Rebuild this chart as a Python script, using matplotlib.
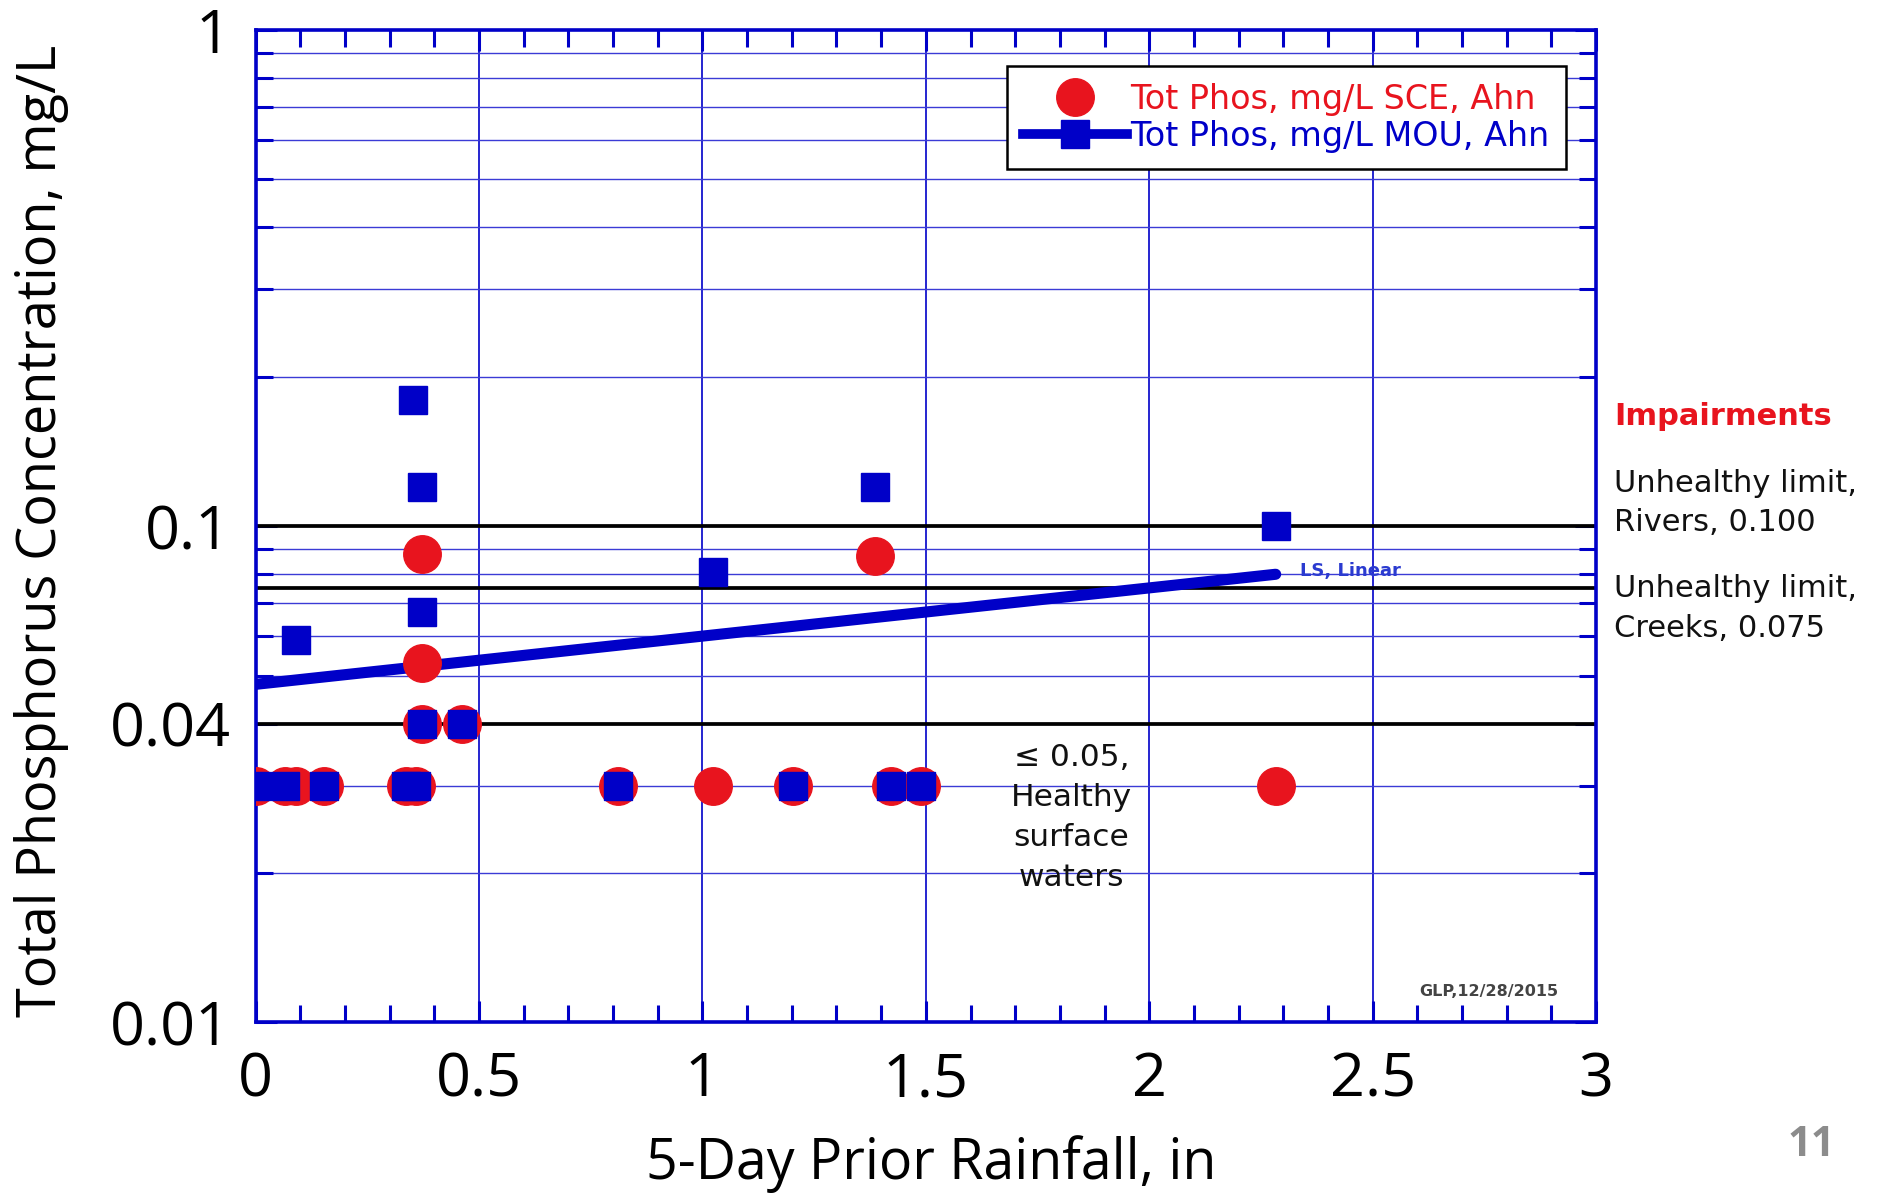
import numpy as np
import matplotlib.pyplot as plt
from matplotlib.lines import Line2D
from matplotlib.ticker import FixedLocator, NullFormatter

# Tot Phos, mg/L SCE, Ahn (red circles)
sce_x = [0.0, 0.066, 0.09, 0.153, 0.336, 0.36, 0.373, 0.373, 0.373, 0.462,
         0.811, 1.023, 1.203, 1.386, 1.422, 1.49, 2.283]
sce_y = [0.03, 0.03, 0.03, 0.03, 0.03, 0.03, 0.088, 0.053, 0.04, 0.04,
         0.03, 0.03, 0.03, 0.087, 0.03, 0.03, 0.03]

# Tot Phos, mg/L MOU, Ahn (blue squares)
mou_x = [0.0, 0.066, 0.153, 0.336, 0.36, 0.352, 0.373, 0.373, 0.091, 0.373,
         0.462, 0.811, 1.023, 1.203, 1.386, 1.422, 1.49, 2.283]
mou_y = [0.03, 0.03, 0.03, 0.03, 0.03, 0.18, 0.12, 0.067, 0.059, 0.04,
         0.04, 0.03, 0.081, 0.03, 0.12, 0.03, 0.03, 0.1]

# LS linear fit on MOU, end points
fit_x = [0.0, 2.283]
fit_y = [0.048, 0.080]

# impairment limits (rivers, creeks, healthy)
limit_y = [0.1, 0.075, 0.04]

xticks = [0, 0.5, 1, 1.5, 2, 2.5, 3]
xtick_labels = ["0", "0.5", "1", "1.5", "2", "2.5", "3"]
yticks = [0.01, 0.04, 0.1, 1]
ytick_labels = ["0.01", "0.04", "0.1", "1"]

BLUE = "#0000c8"
RED = "#e8141e"
TICKFONT = "Open Sans"

fig = plt.figure(figsize=(18.81, 11.96), dpi=100)
ax = fig.add_axes([0.1359, 0.1452, 0.7126, 0.8297])
ax.set_yscale("log")
ax.set_xlim(0, 3)
ax.set_ylim(0.01, 1)

# ticks
ax.xaxis.set_major_locator(FixedLocator(xticks))
ax.xaxis.set_minor_locator(FixedLocator(np.arange(0, 3.01, 0.1)))
ax.set_xticklabels(xtick_labels, fontsize=44, family=TICKFONT)
ax.yaxis.set_major_locator(FixedLocator(yticks))
minors = [m * d for d in (0.01, 0.1) for m in range(2, 10)]
ax.yaxis.set_minor_locator(FixedLocator(minors))
ax.yaxis.set_minor_formatter(NullFormatter())
ax.set_yticklabels(ytick_labels, fontsize=44, family=TICKFONT)
ax.tick_params(which="both", direction="in", top=True, right=True, color=BLUE, width=2.2)
ax.tick_params(which="major", length=15)
ax.tick_params(which="minor", length=12)
ax.tick_params(axis="x", which="major", pad=20)
ax.tick_params(axis="y", which="major", pad=18)

for s in ax.spines.values():
    s.set_color(BLUE)
    s.set_linewidth(2.6)

# grid
ax.grid(True, axis="x", which="major", color=BLUE, lw=1.2, zorder=0.5)
ax.grid(True, axis="y", which="minor", color="#3b3bd6", lw=1.0, zorder=0.5)
ax.set_axisbelow(True)

for v in limit_y:
    ax.axhline(v, color="black", lw=2.7, zorder=2)

ax.plot(fit_x, fit_y, color=BLUE, lw=8, solid_capstyle="round", zorder=3)
ax.plot(sce_x, sce_y, ls="none", marker="o", ms=27, mfc=RED, mec=RED, zorder=4)
ax.plot(mou_x, mou_y, ls="none", marker="s", ms=20, mfc=BLUE, mec=BLUE, zorder=5)

# legend
h1 = Line2D([], [], ls="none", marker="o", ms=27, mfc=RED, mec=RED)
h2 = Line2D([], [], color=BLUE, lw=7, marker="s", ms=20, mfc=BLUE, mec=BLUE)
leg = ax.legend([h1, h2], ["Tot Phos, mg/L SCE, Ahn", "Tot Phos, mg/L MOU, Ahn"],
                loc="upper right", bbox_to_anchor=(0.9776, 0.9637), fontsize=24,
                fancybox=False, framealpha=1, edgecolor="black", handlelength=3.1,
                handletextpad=0.1, labelspacing=0.12, borderpad=0.5, borderaxespad=0)
leg.get_frame().set_linewidth(1.8)
leg.get_texts()[0].set_color(RED)
leg.get_texts()[1].set_color(BLUE)
leg.set_zorder(10)

# annotations inside the plot
ax.text(2.337, 0.0812, "LS, Linear", color="#2b3bd0", fontsize=13,
        fontweight="bold", ha="left", va="center", zorder=6)
ax.text(2.605, 0.01156, "GLP,12/28/2015", color="#444444", fontsize=11.5,
        fontweight="bold", ha="left", va="center")
ax.text(1.826, 0.02584, "\u2264 0.05,\nHealthy\nsurface\nwaters", fontsize=22.5,
        ha="center", va="center", color="#111111", linespacing=1.48)

# impairment notes on the right
tr = ax.get_yaxis_transform()
ax.text(1.0134, 0.1665, "Impairments", transform=tr, color=RED, fontsize=22,
        fontweight="bold", ha="left", va="center")
ax.text(1.0134, 0.1115, "Unhealthy limit,\nRivers, 0.100", transform=tr,
        fontsize=22, ha="left", va="center", color="#111111", linespacing=1.45)
ax.text(1.0134, 0.0683, "Unhealthy limit,\nCreeks, 0.075", transform=tr,
        fontsize=22, ha="left", va="center", color="#111111", linespacing=1.45)

# axis labels
fig.text(0.022, 0.556, "Total Phosphorus Concentration, mg/L", rotation=90,
         fontsize=39, family=TICKFONT, ha="center", va="center")
fig.text(0.495, 0.027, "5-Day Prior Rainfall, in", fontsize=40, family=TICKFONT,
         ha="center", va="center")

# slide number
fig.text(0.963, 0.042, "11", fontsize=30, family=TICKFONT, fontweight="bold",
         color="#8c8c8c", ha="center", va="center")

fig.savefig("out.png", dpi=100)
